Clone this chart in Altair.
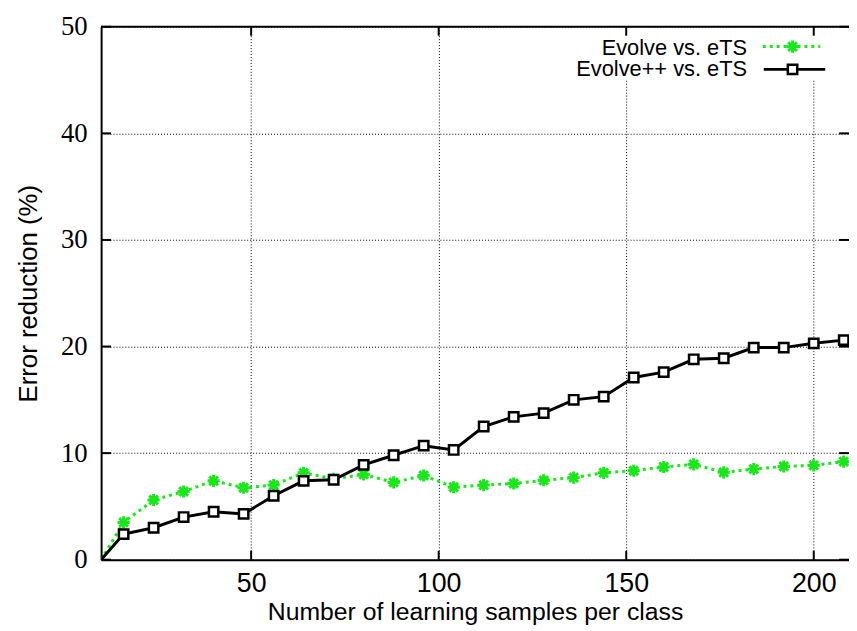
import altair as alt
import pandas as pd

# ---- data ----
x_samples = [10, 16, 24, 32, 40, 48, 56, 64, 72, 80, 88, 96, 104,
             112, 120, 128, 136, 144, 152, 160, 168, 176, 184, 192, 200, 208]
evolve = [0, 3.5, 5.6, 6.4, 7.4, 6.75, 7.0, 8.15, 7.6, 8.0, 7.25, 7.9, 6.8,
          7.0, 7.15, 7.45, 7.7, 8.15, 8.35, 8.7, 8.95, 8.2, 8.5, 8.75, 8.85, 9.2]
evolve_pp = [0, 2.4, 3.0, 4.0, 4.5, 4.3, 6.0, 7.4, 7.5, 8.9, 9.8, 10.7, 10.3,
             12.5, 13.4, 13.75, 15.0, 15.3, 17.1, 17.6, 18.8, 18.9, 19.9, 19.9, 20.3, 20.6]
series_names = ["Evolve vs. eTS", "Evolve++ vs. eTS"]
x_ticks = [50, 100, 150, 200]
y_ticks = [0, 10, 20, 30, 40, 50]
x_title = "Number of learning samples per class"
y_title = "Error reduction (%)"

W, H = 755, 538
GREEN = "#18e818"
STAR = "M-1,0L1,0M0,-1L0,1M-0.72,-0.72L0.72,0.72M-0.72,0.72L0.72,-0.72"

df = pd.DataFrame({
    "x": x_samples * 2,
    "y": evolve + evolve_pp,
    "s": [series_names[0]] * len(x_samples) + [series_names[1]] * len(x_samples),
})
xt = pd.DataFrame({"x": x_ticks})
yt = pd.DataFrame({"y": y_ticks})
one = pd.DataFrame({"k": [0]})

xs = alt.Scale(domain=[10, 209.4], nice=False, zero=False)
ys = alt.Scale(domain=[0, 50], nice=False)

x_axis = alt.Axis(values=x_ticks, grid=True, gridDash=[1, 2], gridColor="#000",
                  gridWidth=1, ticks=False, tickSize=0, domainColor="black",
                  domainWidth=2, labelFont="Liberation Sans", labelFontSize=27,
                  labelColor="black", labelPadding=32, labelBaseline="alphabetic",
                  labelFlush=False, title=x_title, titleFont="Liberation Sans",
                  titleFontSize=25, titleFontWeight="normal", titleColor="black",
                  titleX=W / 2, titleY=60, titleBaseline="alphabetic")
y_axis = alt.Axis(values=y_ticks, grid=True, gridDash=[1, 2], gridColor="#000",
                  gridWidth=1, ticks=False, tickSize=0, domainColor="black",
                  domainWidth=2, labelFont="Liberation Serif", labelFontSize=27,
                  labelColor="black", labelPadding=14, labelFlush=False,
                  title=y_title, titleFont="Liberation Sans", titleFontSize=26,
                  titleFontWeight="normal", titleColor="black",
                  titleX=-65, titleY=H / 2, titleBaseline="alphabetic", titleAngle=270)

X = alt.X("x:Q", scale=xs, axis=x_axis)
Y = alt.Y("y:Q", scale=ys, axis=y_axis)

base = alt.Chart(df)
green = base.transform_filter(alt.datum.s == series_names[0])
black = base.transform_filter(alt.datum.s == series_names[1])

green_line = green.mark_line(color=GREEN, strokeWidth=3, strokeDash=[3, 4], clip=True).encode(x=X, y=Y)
green_pts = green.transform_filter(alt.datum.x > 10).mark_point(
    shape=STAR, filled=False, stroke=GREEN, strokeWidth=3, size=150, opacity=1, clip=True
).encode(x=X, y=Y)
black_line = black.mark_line(color="black", strokeWidth=3, clip=True).encode(x=X, y=Y)
black_pts = black.transform_filter(alt.datum.x > 10).mark_point(
    shape="square", filled=True, fill="white", stroke="black", strokeWidth=2.5,
    size=90, opacity=1, clip=True
).encode(x=X, y=Y)

# legend background (opaque key box)
key_box = alt.Chart(one).mark_rect(fill="white").encode(
    x=alt.value(478), x2=alt.value(W), y=alt.value(1), y2=alt.value(54))

# inward ticks and top border
tick_left = alt.Chart(yt).mark_rule(color="black", strokeWidth=2).encode(
    y=Y, x=alt.value(0), x2=alt.value(10))
tick_right = alt.Chart(yt).mark_rule(color="black", strokeWidth=2).encode(
    y=Y, x=alt.value(W - 10), x2=alt.value(W))
tick_bottom = alt.Chart(xt).mark_rule(color="black", strokeWidth=2).encode(
    x=X, y=alt.value(H), y2=alt.value(H - 9))
tick_top = alt.Chart(xt).mark_rule(color="black", strokeWidth=2).encode(
    x=X, y=alt.value(0), y2=alt.value(9))
top_border = alt.Chart(one).mark_rule(color="black", strokeWidth=2).encode(
    x=alt.value(0), x2=alt.value(W), y=alt.value(0))

# legend entries
leg_txt1 = alt.Chart(one).mark_text(text=series_names[0], align="right", baseline="alphabetic",
                                    font="Liberation Sans", fontSize=22, color="black").encode(
    x=alt.value(652), y=alt.value(28))
leg_txt2 = alt.Chart(one).mark_text(text=series_names[1], align="right", baseline="alphabetic",
                                    font="Liberation Sans", fontSize=22, color="black").encode(
    x=alt.value(652), y=alt.value(50))
leg_line1 = alt.Chart(one).mark_rule(color=GREEN, strokeWidth=3, strokeDash=[3, 4]).encode(
    x=alt.value(668), x2=alt.value(726), y=alt.value(20))
leg_pt1 = alt.Chart(one).mark_point(shape=STAR, filled=False, stroke=GREEN, strokeWidth=3,
                                    size=150, opacity=1).encode(x=alt.value(698), y=alt.value(20))
leg_line2 = alt.Chart(one).mark_rule(color="black", strokeWidth=3).encode(
    x=alt.value(669), x2=alt.value(731), y=alt.value(43))
leg_pt2 = alt.Chart(one).mark_point(shape="square", filled=True, fill="white", stroke="black",
                                    strokeWidth=2.5, size=90, opacity=1).encode(
    x=alt.value(698), y=alt.value(43))

chart = alt.layer(
    green_line, green_pts, black_line, black_pts,
    key_box, tick_left, tick_right, tick_bottom, tick_top, top_border,
    leg_txt1, leg_txt2, leg_line1, leg_pt1, leg_line2, leg_pt2,
).properties(
    width=W, height=H,
    autosize=alt.AutoSizeParams(type="none"),
    padding={"left": 94, "top": 16, "right": 0, "bottom": 68},
    background="white",
).configure_view(stroke=None)

chart.save("out.html", embed_options={"renderer": "svg", "actions": False})
